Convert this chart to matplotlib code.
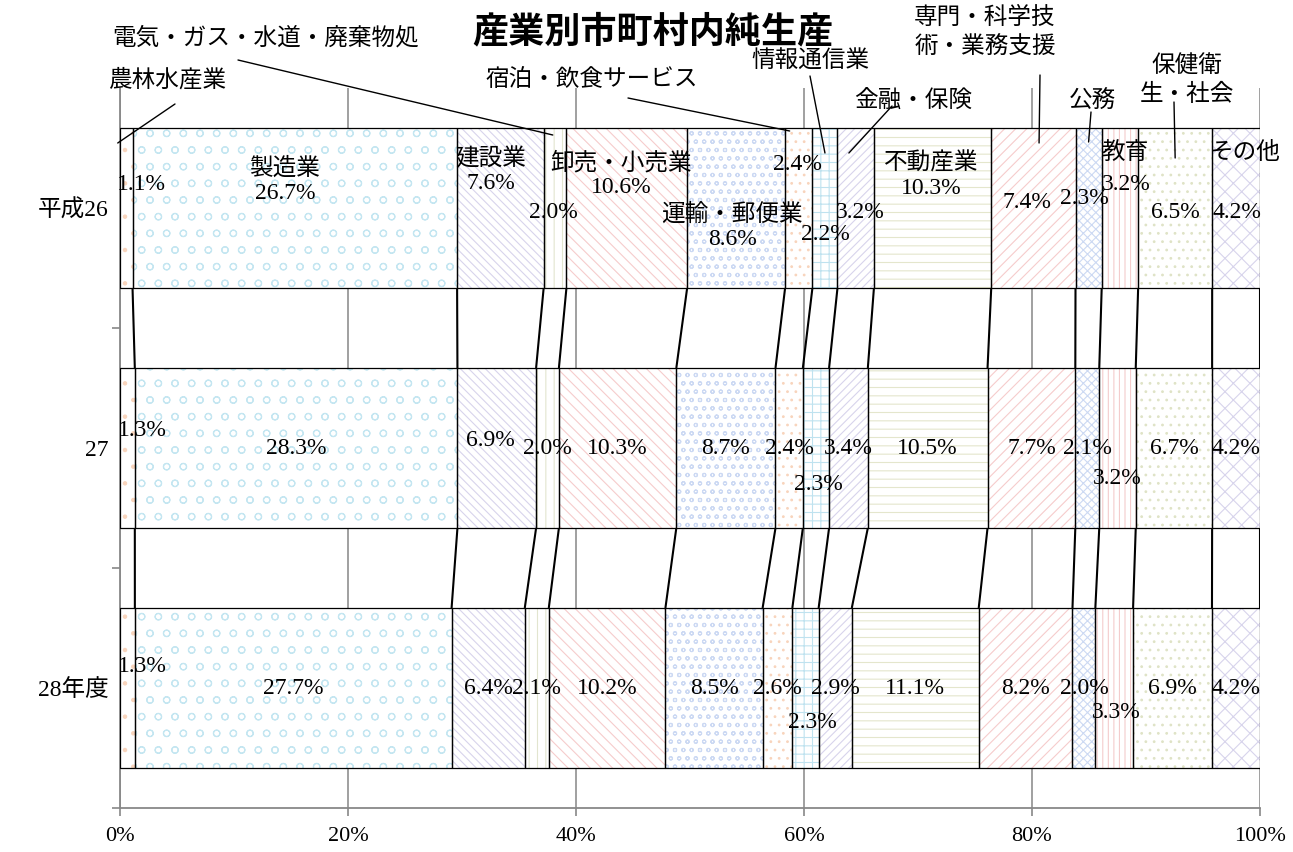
import matplotlib
matplotlib.use('Agg')
import matplotlib.pyplot as plt
import numpy as np

# data (percent of total)
years = ['平成26', '27', '28年度']
industries = ['農林水産業', '製造業', '建設業', '電気・ガス・水道・廃棄物処理', '卸売・小売業',
              '運輸・郵便業', '宿泊・飲食サービス', '情報通信業', '金融・保険', '不動産業',
              '専門・科学技術・業務支援', '公務', '教育', '保健衛生・社会', 'その他']
h26 = [1.1, 28.5, 7.6, 2.0, 10.6, 8.6, 2.4, 2.2, 3.2, 10.3, 7.4, 2.3, 3.2, 6.5, 4.2]
h27 = [1.3, 28.3, 6.9, 2.0, 10.3, 8.7, 2.4, 2.3, 3.4, 10.5, 7.7, 2.1, 3.2, 6.7, 4.2]
h28 = [1.3, 27.7, 6.4, 2.1, 10.2, 8.5, 2.6, 2.3, 2.9, 11.1, 8.2, 2.0, 3.3, 6.9, 4.2]
# the source chart prints 26.7% on the 平成26 製造業 bar
label_override = {(0, 1): '26.7%'}

raw = np.array([h26, h27, h28])
shares = raw / raw.sum(axis=1, keepdims=True) * 100
lefts = np.cumsum(shares, axis=1) - shares
rights = lefts + shares
centers = lefts + shares / 2

hatches = ['.', 'o', '\\\\\\\\', '||', '\\\\\\', 'oo', '..', '++', '////', '--', '///', 'xxxx', '|||', '..', 'xx']
hcolors = ['#f8d4bc', '#c4e6f1', '#d8d4ec', '#e2e5cf', '#f6cccc', '#ccd9f3', '#f8d4bc', '#bfe2ef',
           '#d8d4ec', '#e4e6cc', '#f6cccc', '#ccd9f3', '#f4cccc', '#dfe3c6', '#d8d4ec']

num_font = ['Liberation Serif', 'Noto Sans CJK JP']
plt.rcParams['hatch.linewidth'] = 0.8

W, H = 1293, 852
fig = plt.figure(figsize=(W / 100, H / 100), dpi=100)
ax = fig.add_axes([120 / W, 1 - 808 / H, 1140 / W, 720 / H])

bar_h = 2 / 3
ypos = np.arange(len(years))
for j in range(len(industries)):
    ax.barh(ypos, shares[:, j], left=lefts[:, j], height=bar_h, color='white',
            edgecolor=hcolors[j], hatch=hatches[j], linewidth=0, zorder=2)
    ax.barh(ypos, shares[:, j], left=lefts[:, j], height=bar_h, fill=False,
            edgecolor='black', linewidth=0.9, zorder=3)

# series lines
for i in range(len(years) - 1):
    for j in range(len(industries)):
        ax.plot([rights[i, j], rights[i + 1, j]], [i + bar_h / 2, i + 1 - bar_h / 2],
                color='black', lw=1.5, zorder=3, solid_capstyle='butt')

ax.set_xlim(0, 100)
ax.set_ylim(2.5, -0.5)
ax.set_axisbelow(True)
ax.xaxis.grid(True, color='#999999', lw=1.3)
for s in ['top', 'right']:
    ax.spines[s].set_visible(False)
for s in ['left', 'bottom']:
    ax.spines[s].set_color('#888888')
    ax.spines[s].set_linewidth(1.3)

ax.set_xticks(np.arange(0, 101, 20))
ax.set_xticklabels([f'{v}%' for v in range(0, 101, 20)], family='Liberation Serif', fontsize=16)
ax.tick_params(axis='x', direction='out', length=6, width=1.2, color='#888888', pad=8)
ax.set_yticks(ypos)
ax.set_yticklabels(years, family=num_font, fontsize=17)
ax.tick_params(axis='y', length=0, pad=8)
ax.set_yticks([0.5, 1.5, 2.5], minor=True)
ax.tick_params(axis='y', which='minor', direction='out', length=6, width=1.2, color='#888888')

# value label offsets in pixels (dx, dy down)
offsets = [
    {0: (15, -23), 3: (-2, 4), 6: (-1, -43), 7: (0, 27), 8: (5, 4), 10: (-6, -5),
     11: (-4, -10), 12: (6, -23), 13: (0, 4), 14: (1, 4)},
    {0: (15, -18), 2: (-6, -8), 7: (2, 37), 12: (0, 30)},
    {0: (15, -22), 7: (7, 34), 12: (2, 24)},
]
# 平成26 bar shows some names inside the bar: (name, value) stacked
inside_names = {1: (-10, -27), 2: (-10, -37), 4: (-6, -33), 5: (-4, 19), 9: (-1, -32)}

for i in range(len(years)):
    for j in range(len(industries)):
        txt = label_override.get((i, j), f'{raw[i, j]:.1f}%')
        dx, dy = offsets[i].get(j, (0, 0))
        if i == 0 and j in inside_names:
            txt = industries[j] + '\n' + txt
            dx, dy = inside_names[j]
        ax.annotate(txt, xy=(centers[i, j], i), xytext=(dx, -dy), textcoords='offset pixels',
                    ha='center', va='center', fontsize=17, family=num_font,
                    linespacing=1.2, zorder=5)

# names written separately in the 平成26 bar
ax.annotate('教育', xy=(centers[0, 12], 0), xytext=(5, 55), textcoords='offset pixels',
            ha='center', va='center', fontsize=17, family=num_font, zorder=5)
ax.annotate('その他', xy=(centers[0, 14], 0), xytext=(9, 55), textcoords='offset pixels',
            ha='center', va='center', fontsize=17, family=num_font, zorder=5)


def figpx(x, y):
    return x / W, 1 - y / H


fig.text(*figpx(653, 32), '産業別市町村内純生産', ha='center', va='center',
         fontsize=26, family='Noto Sans CJK JP', weight='bold')

# outside labels with leader lines: text pos, text align, line start (px), line end (data x, y px)
outside = [
    (0, '農林水産業', (108, 80), 'left', (175, 104), (lefts[0, 0] - 0.2, 143)),
    (3, '電気・ガス・水道・廃棄物処', (112, 38), 'left', (238, 60), (centers[0, 3] - 0.2, 135)),
    (6, '宿泊・飲食サービス', (592, 80), 'center', (628, 98), (lefts[0, 6] + 0.4, 131)),
    (7, '情報通信業', (810, 61), 'center', (810, 76), (centers[0, 7], 153)),
    (8, '金融・保険', (913, 100), 'center', (892, 106), (lefts[0, 8] + 1.0, 153)),
    (10, '専門・科学技\n術・業務支援', (985, 32), 'center', (1040, 75), (centers[0, 10] + 0.5, 143)),
    (11, '公務', (1092, 100), 'center', (1091, 112), (centers[0, 11], 142)),
    (13, '保健衛\n生・社会', (1187, 80), 'center', (1174, 102), (centers[0, 13], 158)),
]
for j, name, (tx, ty), ha, (sx, sy), (ex, ey) in outside:
    fig.text(*figpx(tx, ty), name, ha=ha, va='center', fontsize=17,
             family='Noto Sans CJK JP', linespacing=1.35)
    ax.annotate('', xy=(ex, (ey - 88) / 240 - 0.5), xytext=(sx, H - sy), textcoords='figure pixels',
                arrowprops=dict(arrowstyle='-', color='black', lw=1.0, shrinkA=0, shrinkB=0),
                annotation_clip=False, zorder=6)

fig.savefig('out.png', dpi=100)
